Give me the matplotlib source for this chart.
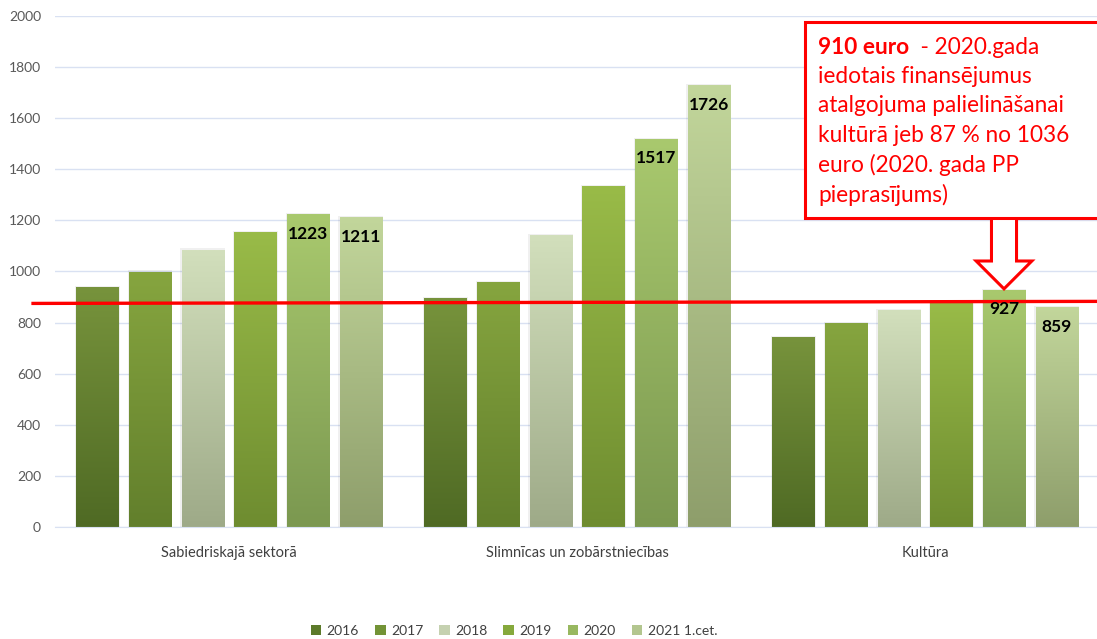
import numpy as np
import matplotlib.pyplot as plt
from matplotlib.colors import LinearSegmentedColormap
from matplotlib.patches import Rectangle, Polygon, Patch

plt.rcParams['font.family'] = ['Lato', 'DejaVu Sans']

categories = ['Sabiedriskajā sektorā', 'Slimnīcas un zobārstniecības', 'Kultūra']
years = ['2016', '2017', '2018', '2019', '2020', '2021 1.cet.']
values = [
    [939, 998, 1084, 1151, 1223, 1211],   # Sabiedriskajā sektorā
    [896, 955, 1139, 1331, 1517, 1726],   # Slimnīcas un zobārstniecības
    [740, 795, 849, 878, 927, 859],       # Kultūra
]
labeled_years = ['2020', '2021 1.cet.']
red_line = [875, 883]   # 910 euro līmenis (kā zīmēts attēlā)

top_colors = ['#77933c', '#86a53f', '#d2dfbc', '#99bb48', '#a9c96e', '#c2d69b']
bottom_colors = ['#4f6a24', '#627f2c', '#9eaa88', '#6e8c30', '#7b9850', '#8e9e6b']
legend_colors = ['#5c7a2a', '#739336', '#c5d1b0', '#86a93c', '#98b860', '#b3c68f']

box_lines = ['iedotais finansējumus',
             'atalgojuma palielināšanai',
             'kultūrā jeb 87 % no 1036',
             'euro (2020. gada PP',
             'pieprasījums)']

fig = plt.figure(figsize=(10.97, 6.39), dpi=100)
ax = fig.add_axes([0.0501, 0.1753, 0.9517, 0.7997])

step = 0.1514
width = 0.1207
grad = np.linspace(0, 1, 256).reshape(-1, 1)

for gi, vals in enumerate(values):
    for i, v in enumerate(vals):
        x = gi + (i - 2.5) * step
        # ēna
        ax.add_patch(Rectangle((x - width / 2 - 0.004, 0), width + 0.008, v + 6,
                               facecolor='#000000', alpha=0.06, lw=0, zorder=1.5))
        cmap = LinearSegmentedColormap.from_list('g', [bottom_colors[i], top_colors[i]])
        ax.imshow(grad, extent=[x - width / 2, x + width / 2, 0, v], origin='lower',
                  cmap=cmap, aspect='auto', zorder=2)
        if years[i] in labeled_years:
            ax.annotate(str(v), (x, v), xytext=(0, -8), textcoords='offset points',
                        ha='center', va='top', fontsize=12.5, fontweight='bold',
                        color='black', zorder=5)

ax.set_xlim(-0.5, 2.5)
ax.set_ylim(0, 2000)
ax.set_yticks(range(0, 2001, 200))
ax.set_xticks(range(len(categories)))
ax.set_xticklabels(categories, fontsize=10.5, color='#404040')
ax.tick_params(axis='y', length=0, pad=10, labelsize=10, labelcolor='#595959')
ax.tick_params(axis='x', length=0, pad=14)
ax.grid(axis='y', color='#d9e1f2', lw=1, zorder=0)
ax.set_axisbelow(True)
for s in ['top', 'right', 'left']:
    ax.spines[s].set_visible(False)
ax.spines['bottom'].set_color('#d9e1f2')

# sarkanā līnija
ax.plot([-0.563, 2.5], red_line, color='red', lw=2.4, clip_on=False, zorder=4)

# bulta uz 2020. gada stabiņu kultūrā
cx = 2 + (4 - 2.5) * step
tip = values[2][4] + 5
sw, hw = 0.036, 0.080
arrow = Polygon([(cx - sw, 1215), (cx + sw, 1215), (cx + sw, 1041), (cx + hw, 1041),
                 (cx, tip), (cx - hw, 1041), (cx - sw, 1041)],
                closed=True, facecolor='white', edgecolor='red', lw=2.2,
                clip_on=False, zorder=6)
ax.add_patch(arrow)

# teksta lodziņš
box = Rectangle((805 / 1097, 1 - 218 / 639), 0.3, 196 / 639, transform=fig.transFigure,
                facecolor='white', edgecolor='red', lw=2.2, zorder=3)
fig.add_artist(box)

tx = 818 / 1097
ty = 1 - 45 / 639
dy = 29.5 / 639
fs = 16.3
t0 = fig.text(tx, ty, '910 euro', color='red', fontsize=fs, fontweight='bold',
              va='center_baseline', ha='left', zorder=4)
fig.add_artist(plt.Annotation('  - 2020.gada', xy=(1, 0), xycoords=t0,
                              va='bottom', ha='left', color='red', fontsize=fs,
                              zorder=4))
for k, line in enumerate(box_lines):
    fig.text(tx, ty - (k + 1) * dy, line, color='red', fontsize=fs,
             va='center_baseline', ha='left', zorder=4)

handles = [Patch(facecolor=c, edgecolor='none') for c in legend_colors]
fig.legend(handles, years, loc='center', bbox_to_anchor=(0.4686, 1 - 631 / 639),
           ncol=6, frameon=False, fontsize=10, handlelength=0.75, handleheight=0.75,
           handletextpad=0.4, columnspacing=1.15, labelcolor='#404040')

fig.savefig('out.png', dpi=100)
